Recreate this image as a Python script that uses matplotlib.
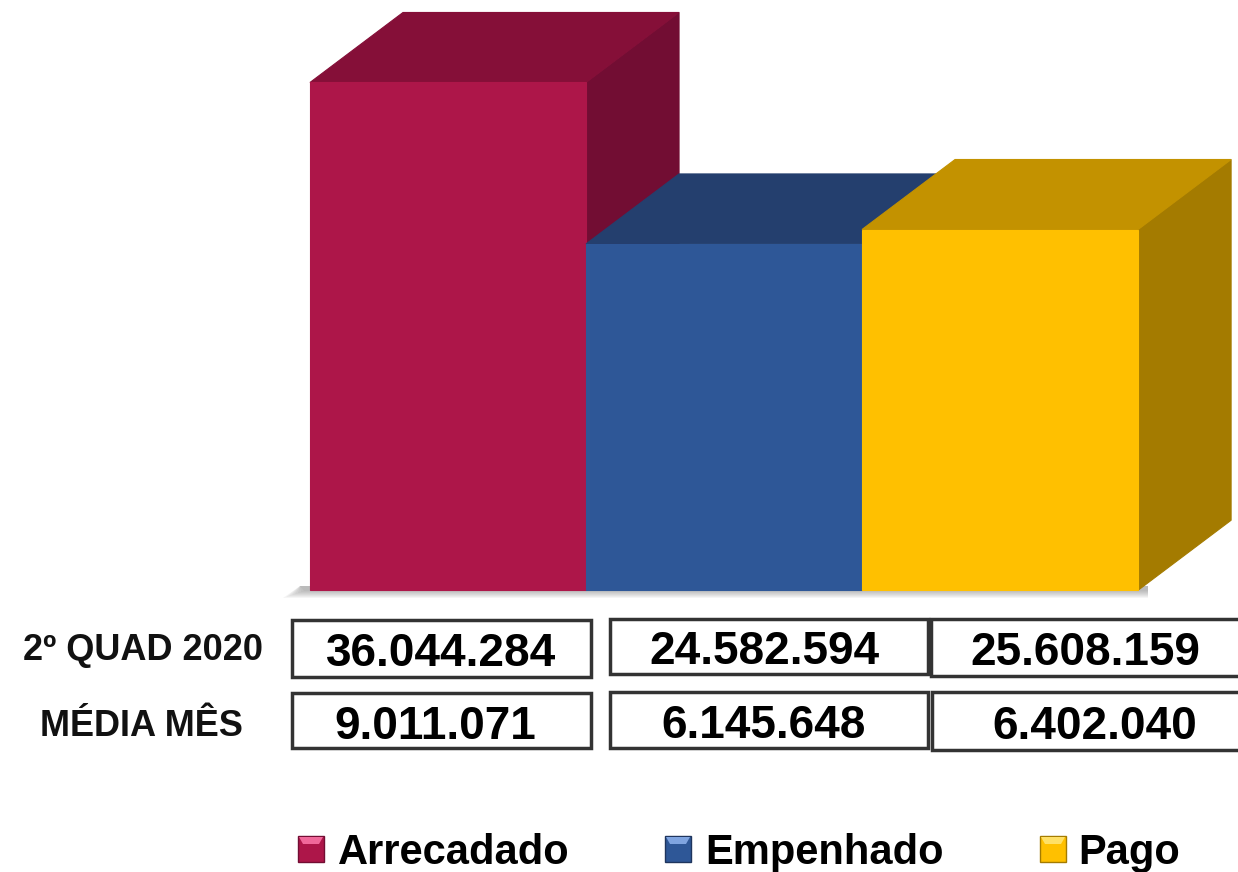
import numpy as np
import matplotlib.pyplot as plt
from matplotlib.patches import Polygon, Rectangle

# data
series = ['Arrecadado', 'Empenhado', 'Pago']
quad_values = [36044284, 24582594, 25608159]
media_values = [9011071, 6145648, 6402040]
row_labels = ['2º QUAD 2020', 'MÉDIA MÊS']

front_colors = ['#AD1649', '#2E5797', '#FFC000']
top_colors = ['#850F38', '#243F6E', '#C39200']
side_colors = ['#720D33', '#1F355D', '#A47B00']
light_colors = ['#F0689A', '#7FA4E0', '#FFE066']

W, H = 1238, 872
FONT = ['Liberation Sans', 'DejaVu Sans']


def fmt(v):
    return f"{v:,}".replace(',', '.')


def P(x, y):
    # pixel (from top-left) -> figure fraction
    return (x / W, 1 - y / H)


fig = plt.figure(figsize=(W / 100, H / 100), dpi=100)
ax = fig.add_axes([0, 0, 1, 1])
ax.set_xlim(-1.623, 2.862)
ax.set_ylim(-20.0e6, 41.9e6)
ax.axis('off')

# floor shadow
for i in range(8):
    off = 8 - i
    poly = Polygon([P(283 + i * 3, 590 + off), P(1148, 590 + off),
                    P(1148, 586), P(300, 586)],
                   closed=True, transform=fig.transFigure,
                   facecolor='#555555', edgecolor='none', alpha=0.06, zorder=0)
    fig.add_artist(poly)

dx = 0.337
dy = 4.97e6
x = np.arange(len(series))
z = 1
for xi, v, fc, tc, sc in zip(x, quad_values, front_colors, top_colors, side_colors):
    side = Polygon([(xi + 0.5, 0), (xi + 0.5, v), (xi + 0.5 + dx, v + dy),
                    (xi + 0.5 + dx, dy)], closed=True, facecolor=sc,
                   edgecolor=sc, linewidth=0.8, zorder=z)
    top = Polygon([(xi - 0.5, v), (xi - 0.5 + dx, v + dy), (xi + 0.5 + dx, v + dy),
                   (xi + 0.5, v)], closed=True, facecolor=tc,
                  edgecolor=tc, linewidth=0.8, zorder=z + 1)
    ax.add_patch(side)
    ax.add_patch(top)
    ax.bar(xi, v, width=1.0, color=fc, edgecolor=fc, linewidth=0.8, zorder=z + 2)
    z += 3

# table
label_pos = [(143, 660), (141, 736)]
for lab, (lx, ly) in zip(row_labels, label_pos):
    fig.text(*P(lx, ly), lab, ha='center', va='baseline', fontsize=26,
             fontweight='bold', family=FONT, color='#111111')

boxes = [
    [(292, 620, 591, 677), (610, 619, 928, 674), (931, 619, 1245, 676)],
    [(292, 693, 591, 748), (610, 692, 928, 748), (932, 692, 1245, 750)],
]
text_x = [[441, 764, 1085], [435, 764, 1095]]
baselines = [[666, 664, 665], [739, 738, 739]]
for r, vals in enumerate([quad_values, media_values]):
    for c, v in enumerate(vals):
        x0, y0, x1, y1 = boxes[r][c]
        rect = Rectangle(P(x0, y1), (x1 - x0) / W, (y1 - y0) / H,
                         transform=fig.transFigure, facecolor='white',
                         edgecolor='#333333', linewidth=2.5)
        fig.add_artist(rect)
        fig.text(*P(text_x[r][c], baselines[r][c]), fmt(v), ha='center',
                 va='baseline', fontsize=33, fontweight='bold', family=FONT,
                 color='black')

# legend
marker_x = [298, 665, 1040]
text_start = [338, 705, 1078]
for mx, tx, name, fc, lc, sc in zip(marker_x, text_start, series,
                                    front_colors, light_colors, side_colors):
    s = 26
    y0 = 836
    fig.add_artist(Rectangle(P(mx, y0 + s), s / W, s / H, transform=fig.transFigure,
                             facecolor=fc, edgecolor=sc, linewidth=1))
    fig.add_artist(Polygon([P(mx + 1, y0 + 1), P(mx + s - 1, y0 + 1),
                            P(mx + s - 5, y0 + 8), P(mx + 5, y0 + 8)],
                           closed=True, transform=fig.transFigure,
                           facecolor=lc, edgecolor='none'))
    fig.text(*P(tx, 864), name, ha='left', va='baseline', fontsize=30,
             fontweight='bold', family=FONT, color='black')

fig.savefig('out.png', dpi=100, facecolor='white')
